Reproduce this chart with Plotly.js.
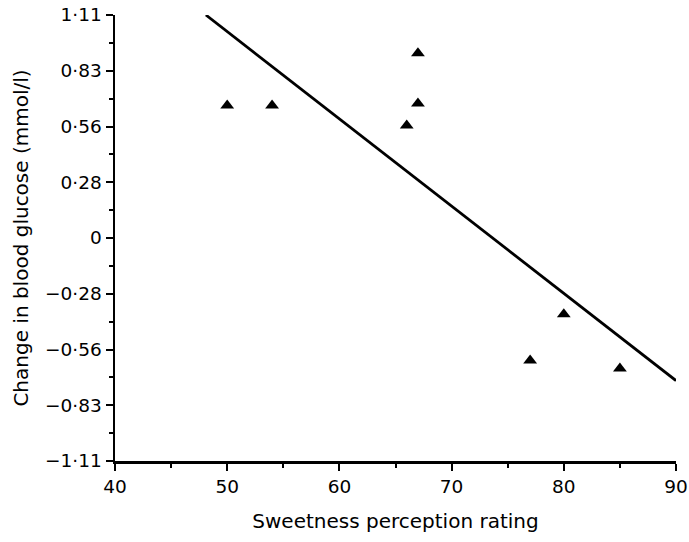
<!DOCTYPE html>
<html><head><meta charset="utf-8">
<script src="https://cdn.plot.ly/plotly-3.0.1.min.js"></script>
<style>html,body{margin:0;padding:0;background:#fff;}#chart{width:689px;height:542px;}</style>
</head><body><div id="chart"></div>
<script>
const sweetness = [50, 54, 66, 67, 67, 77, 80, 85];
const glucoseChange = [0.66, 0.66, 0.56, 0.67, 0.92, -0.61, -0.38, -0.65];
const fitX = [48.1, 90];
const fitY = [1.11, -0.71];
const yTickVals = [-1.11, -0.8325, -0.555, -0.2775, 0, 0.2775, 0.555, 0.8325, 1.11];
const yTickText = ['\u22121\u00b711', '\u22120\u00b783', '\u22120\u00b756', '\u22120\u00b728', '0', '0\u00b728', '0\u00b756', '0\u00b783', '1\u00b711'];
const yMinorVals = [-0.97125, -0.69375, -0.41625, -0.13875, 0.13875, 0.41625, 0.69375, 0.97125];

function f(s) { return {family: 'DejaVu Sans, sans-serif', size: s, color: '#000'}; }
Plotly.newPlot('chart', [
  {x: fitX, y: fitY, mode: 'lines', line: {color: '#000', width: 2.8}, hoverinfo: 'skip'},
  {x: sweetness, y: glucoseChange, mode: 'markers', marker: {symbol: 'triangle-up', size: 12, color: '#000'}}
], {
  width: 689, height: 542,
  margin: {l: 115, r: 13, t: 15, b: 81},
  showlegend: false,
  paper_bgcolor: '#fff', plot_bgcolor: '#fff',
  font: f(18),
  xaxis: {
    range: [40, 90], tickvals: [40, 50, 60, 70, 80, 90], ticks: 'outside', ticklen: 7, tickwidth: 2,
    tickcolor: '#000', showline: true, linecolor: '#000', linewidth: 2.5, showgrid: false, zeroline: false,
    ticklabeloverflow: 'allow',
    minor: {tickvals: [45, 55, 65, 75, 85], ticks: 'outside', ticklen: 4, tickwidth: 2, tickcolor: '#000', showgrid: false},
    title: {text: 'Sweetness perception rating', font: f(20), standoff: 19},
    tickfont: f(18.5)
  },
  yaxis: {
    range: [-1.11, 1.11], tickvals: yTickVals, ticktext: yTickText, ticks: 'outside', ticklen: 7, tickwidth: 2,
    tickcolor: '#000', showline: true, linecolor: '#000', linewidth: 2.5, showgrid: false, zeroline: false,
    minor: {tickvals: yMinorVals, ticks: 'outside', ticklen: 4, tickwidth: 2, tickcolor: '#000', showgrid: false},
    title: {text: 'Change in blood glucose (mmol/l)', font: f(20), standoff: 11},
    tickfont: f(18.5)
  }
}, {displayModeBar: false, staticPlot: true});
</script></body></html>
